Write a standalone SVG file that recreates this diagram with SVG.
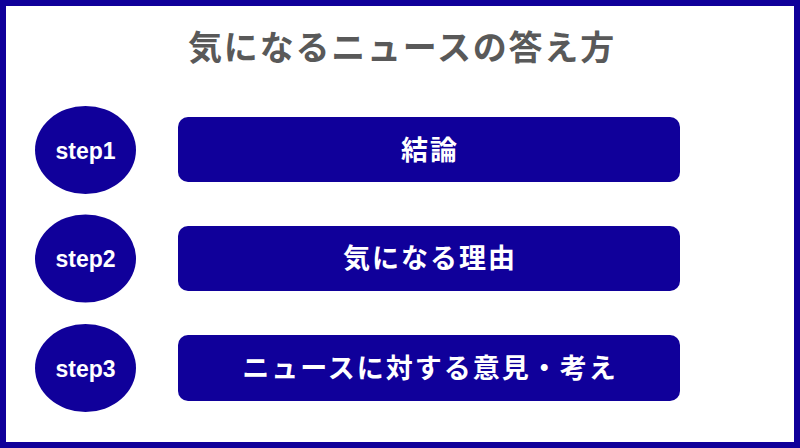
<svg xmlns="http://www.w3.org/2000/svg" width="800" height="448" viewBox="0 0 800 448">
<style>
.frame{fill:#fff;stroke:#10009A;stroke-width:6}
.title{font-family:"Noto Sans CJK JP","Noto Sans",sans-serif;font-weight:bold;font-size:34px;fill:#595959;letter-spacing:1.8px}
.circ{fill:#10009A}
.box{fill:#10009A}
.step{font-family:"Liberation Sans",Arial,sans-serif;font-weight:bold;font-size:23px;fill:#fff}
.label{font-family:"Noto Sans CJK JP","Noto Sans",sans-serif;font-weight:bold;font-size:27px;fill:#fff;letter-spacing:2px}
</style>
<rect class="frame" x="3" y="3" width="794" height="442"/>
<text class="title" x="402" y="60" text-anchor="middle">気になるニュースの答え方</text>
<g id="connectors"></g>
<g id="step1">
<ellipse class="circ" cx="85.5" cy="150" rx="50.5" ry="44"/>
<text class="step" x="85.5" y="158.5" text-anchor="middle">step1</text>
</g>
<g id="box1">
<rect class="box" x="178" y="117" width="502" height="65" rx="10"/>
<text class="label" x="430" y="160" text-anchor="middle">結論</text>
</g>
<g id="step2">
<ellipse class="circ" cx="85.5" cy="258.5" rx="50.5" ry="44"/>
<text class="step" x="85.5" y="267" text-anchor="middle">step2</text>
</g>
<g id="box2">
<rect class="box" x="178" y="226" width="502" height="65" rx="10"/>
<text class="label" x="430" y="268" text-anchor="middle">気になる理由</text>
</g>
<g id="step3">
<ellipse class="circ" cx="85.5" cy="368" rx="50.5" ry="44"/>
<text class="step" x="85.5" y="376.5" text-anchor="middle">step3</text>
</g>
<g id="box3">
<rect class="box" x="178" y="335" width="502" height="66" rx="10"/>
<text class="label" x="430" y="378" text-anchor="middle">ニュースに対する意見・考え</text>
</g>
</svg>
